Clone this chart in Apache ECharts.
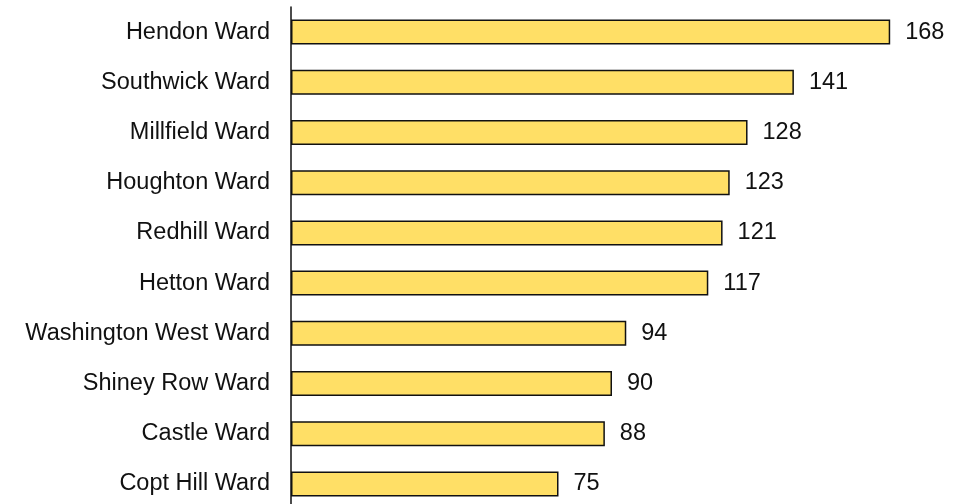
<!DOCTYPE html>
<html>
<head>
<meta charset="utf-8">
<script src="https://cdn.jsdelivr.net/npm/echarts@6/dist/echarts.min.js"></script>
<style>
  html, body { margin: 0; padding: 0; background: #fff; }
  #chart { width: 969px; height: 504px; }
</style>
</head>
<body>
<div id="chart"></div>
<script>
// wards, top to bottom as shown
var wards = ['Hendon Ward', 'Southwick Ward', 'Millfield Ward', 'Houghton Ward', 'Redhill Ward',
  'Hetton Ward', 'Washington West Ward', 'Shiney Row Ward', 'Castle Ward', 'Copt Hill Ward'];
var counts = [168, 141, 128, 123, 121, 117, 94, 90, 88, 75];

var chart = echarts.init(document.getElementById('chart'));

chart.setOption({
  animation: false,
  grid: { left: 291, top: 7, width: 642, height: 502, outerBoundsMode: 'none' },
  xAxis: {
    type: 'value',
    min: 0,
    max: 180,
    show: false
  },
  yAxis: {
    type: 'category',
    inverse: true,
    data: wards,
    axisLine: { show: true, lineStyle: { color: '#111', width: 1.5 } },
    axisTick: { show: false },
    axisLabel: {
      margin: 21,
      color: '#111',
      fontFamily: 'Liberation Sans, Arial, sans-serif',
      fontSize: 23.5
    }
  },
  series: [{
    type: 'bar',
    data: counts,
    barWidth: 25,
    itemStyle: { color: '#FFDF66', borderColor: '#111', borderWidth: 1.5 },
    label: {
      show: true,
      position: 'right',
      distance: 15,
      color: '#111',
      fontFamily: 'Liberation Sans, Arial, sans-serif',
      fontSize: 23.5
    }
  }]
});
</script>
</body>
</html>
